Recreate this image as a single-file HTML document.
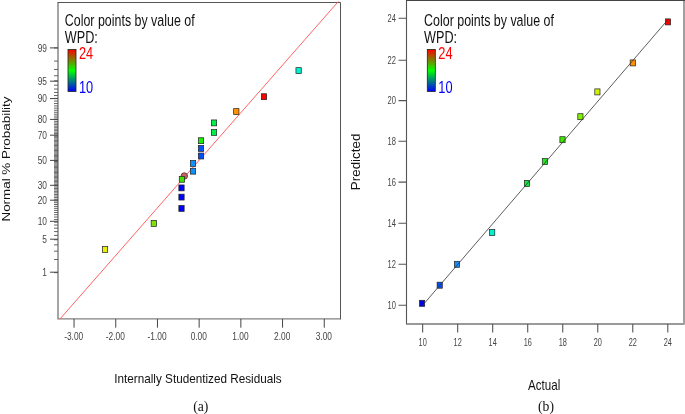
<!DOCTYPE html>
<html><head><meta charset="utf-8"><title>Diagnostic plots</title>
<style>
html,body{margin:0;padding:0;background:#fff;}
svg{display:block;will-change:transform;}
text{font-family:"Liberation Sans",Arial,sans-serif;}
.ser{font-family:"Liberation Serif","Times New Roman",serif;}
</style></head><body>
<svg width="685" height="414" viewBox="0 0 685 414">
<defs>
<linearGradient id="g" x1="0" y1="0" x2="0" y2="1">
<stop offset="0" stop-color="#ff0000"/><stop offset="0.5" stop-color="#00ff00"/><stop offset="1" stop-color="#0000ff"/>
</linearGradient>
</defs>
<rect width="685" height="414" fill="#fff"/>

<path d="M58 2.5V318.9H340.5" fill="none" stroke="#808080" stroke-width="1.4"/>
<path d="M57.5 2.5H340.5V319.4" fill="none" stroke="#555" stroke-width="1"/>
<path d="M54 272.66H58M54 259.5H58M54 251.14H58M54 244.86H58M54 239.75H58M54 235.4H58M54 231.58H58M54 228.16H58M54 225.06H58M54 222.2H58M54 219.54H58M54 217.05H58M54 214.7H58M54 212.48H58M54 210.36H58M54 208.33H58M54 206.39H58M54 204.51H58M54 202.7H58M54 200.95H58M54 199.25H58M54 197.6H58M54 195.99H58M54 194.41H58M54 192.88H58M54 191.37H58M54 189.9H58M54 188.45H58M54 187.03H58M54 185.63H58M54 184.25H58M54 182.89H58M54 181.55H58M54 180.22H58M54 178.91H58M54 177.61H58M54 176.33H58M54 175.05H58M54 173.79H58M54 172.54H58M54 171.29H58M54 170.05H58M54 168.82H58M54 167.59H58M54 166.37H58M54 165.15H58M54 163.94H58M54 162.72H58M54 161.51H58M54 160.3H58M54 159.09H58M54 157.88H58M54 156.66H58M54 155.45H58M54 154.23H58M54 153.01H58M54 151.78H58M54 150.55H58M54 149.31H58M54 148.06H58M54 146.81H58M54 145.55H58M54 144.27H58M54 142.99H58M54 141.69H58M54 140.38H58M54 139.05H58M54 137.71H58M54 136.35H58M54 134.97H58M54 133.57H58M54 132.15H58M54 130.7H58M54 129.23H58M54 127.72H58M54 126.19H58M54 124.61H58M54 123.0H58M54 121.35H58M54 119.65H58M54 117.9H58M54 116.09H58M54 114.21H58M54 112.27H58M54 110.24H58M54 108.12H58M54 105.9H58M54 103.55H58M54 101.06H58M54 98.4H58M54 95.54H58M54 92.44H58M54 89.02H58M54 85.2H58M54 80.85H58M54 75.74H58M54 69.46H58M54 61.1H58M54 47.94H58" stroke="#4a4a4a" stroke-width="0.85" fill="none"/>
<text transform="translate(47,275.8) scale(0.835,1)" font-size="10" fill="#444" text-anchor="end">1</text>
<text transform="translate(47,242.8) scale(0.835,1)" font-size="10" fill="#444" text-anchor="end">5</text>
<text transform="translate(47,224.9) scale(0.835,1)" font-size="10" fill="#444" text-anchor="end">10</text>
<text transform="translate(47,203.8) scale(0.835,1)" font-size="10" fill="#444" text-anchor="end">20</text>
<text transform="translate(47,188.9) scale(0.835,1)" font-size="10" fill="#444" text-anchor="end">30</text>
<text transform="translate(47,164.0) scale(0.835,1)" font-size="10" fill="#444" text-anchor="end">50</text>
<text transform="translate(47,138.8) scale(0.835,1)" font-size="10" fill="#444" text-anchor="end">70</text>
<text transform="translate(47,123.0) scale(0.835,1)" font-size="10" fill="#444" text-anchor="end">80</text>
<text transform="translate(47,102.2) scale(0.835,1)" font-size="10" fill="#444" text-anchor="end">90</text>
<text transform="translate(47,84.8) scale(0.835,1)" font-size="10" fill="#444" text-anchor="end">95</text>
<text transform="translate(47,51.5) scale(0.835,1)" font-size="10" fill="#444" text-anchor="end">99</text>
<path d="M50 272.2H58M50 239.2H58M50 221.3H58M50 200.2H58M50 185.3H58M50 160.4H58M50 135.2H58M50 119.4H58M50 98.6H58M50 81.2H58M50 47.9H58" stroke="#444" stroke-width="1" fill="none"/>
<text transform="translate(73.64999999999999,339.7) scale(0.835,1)" font-size="10" fill="#444" text-anchor="middle">-3.00</text>
<text transform="translate(115.35,339.7) scale(0.835,1)" font-size="10" fill="#444" text-anchor="middle">-2.00</text>
<text transform="translate(157.04999999999998,339.7) scale(0.835,1)" font-size="10" fill="#444" text-anchor="middle">-1.00</text>
<text transform="translate(198.75,339.7) scale(0.835,1)" font-size="10" fill="#444" text-anchor="middle">0.00</text>
<text transform="translate(240.45,339.7) scale(0.835,1)" font-size="10" fill="#444" text-anchor="middle">1.00</text>
<text transform="translate(282.15000000000003,339.7) scale(0.835,1)" font-size="10" fill="#444" text-anchor="middle">2.00</text>
<text transform="translate(323.85,339.7) scale(0.835,1)" font-size="10" fill="#444" text-anchor="middle">3.00</text>
<path d="M74.05 318.9V327.7M115.75 318.9V327.7M157.45 318.9V327.7M199.15 318.9V327.7M240.85 318.9V327.7M282.55 318.9V327.7M324.25 318.9V327.7" stroke="#444" stroke-width="1" fill="none"/>
<line x1="59.9" y1="319.1" x2="338.4" y2="1.4" stroke="#ff6464" stroke-width="1"/>
<rect x="295.95" y="67.65" width="5.3" height="5.9" fill="#00f0d0" stroke="#222" stroke-width="0.7"/>
<rect x="261.35" y="93.75" width="5.3" height="5.9" fill="#ff0000" stroke="#222" stroke-width="0.7"/>
<rect x="233.65" y="108.65" width="5.3" height="5.9" fill="#ff9000" stroke="#222" stroke-width="0.7"/>
<rect x="211.35" y="119.95" width="5.3" height="5.9" fill="#00f048" stroke="#222" stroke-width="0.7"/>
<rect x="211.35" y="129.45" width="5.3" height="5.9" fill="#00f048" stroke="#222" stroke-width="0.7"/>
<rect x="198.35" y="137.75" width="5.3" height="5.9" fill="#18f000" stroke="#222" stroke-width="0.7"/>
<rect x="198.35" y="145.45" width="5.3" height="5.9" fill="#0050ff" stroke="#222" stroke-width="0.7"/>
<rect x="198.35" y="153.05" width="5.3" height="5.9" fill="#0050ff" stroke="#222" stroke-width="0.7"/>
<rect x="190.35" y="160.45" width="5.3" height="5.9" fill="#1090ff" stroke="#222" stroke-width="0.7"/>
<rect x="190.35" y="168.25" width="5.3" height="5.9" fill="#1090ff" stroke="#222" stroke-width="0.7"/>
<circle cx="184.3" cy="176" r="3.2" fill="#c86464" stroke="#7a3a3a" stroke-width="1"/>
<rect x="179.25" y="176.35" width="5.3" height="5.9" fill="#40e000" stroke="#222" stroke-width="0.7"/>
<rect x="178.85" y="184.95" width="5.3" height="5.9" fill="#0000ff" stroke="#222" stroke-width="0.7"/>
<rect x="178.85" y="194.15" width="5.3" height="5.9" fill="#0000ff" stroke="#222" stroke-width="0.7"/>
<rect x="178.85" y="205.45" width="5.3" height="5.9" fill="#0000ff" stroke="#222" stroke-width="0.7"/>
<rect x="151.15" y="220.45" width="5.3" height="5.9" fill="#80e000" stroke="#222" stroke-width="0.7"/>
<rect x="102.35" y="246.55" width="5.3" height="5.9" fill="#e8f000" stroke="#222" stroke-width="0.7"/>
<text transform="translate(64.8,25.9) scale(0.797,1)" font-size="15.6" fill="#111" text-anchor="start">Color points by value of</text>
<text transform="translate(64.8,42.6) scale(0.81,1)" font-size="15.6" fill="#111" text-anchor="start">WPD:</text>
<rect x="68.0" y="49.5" width="8" height="42" fill="url(#g)" stroke="#222" stroke-width="0.8"/>
<text transform="translate(79.0,59.2) scale(0.8,1)" font-size="16" fill="#ff0000" text-anchor="start">24</text>
<text transform="translate(79.0,92.7) scale(0.8,1)" font-size="16" fill="#0000ff" text-anchor="start">10</text>
<text transform="translate(9.8,221.5) scale(0.875,1) rotate(-90)" font-size="13.4" fill="#111" text-anchor="start">Normal % Probability</text>
<text transform="translate(114.3,383.2) scale(0.875,1)" font-size="13.4" fill="#111" text-anchor="start">Internally Studentized Residuals</text>
<text class="ser" x="193.2" y="411.2" font-size="13.7" fill="#111">(a)</text>
<path d="M406.5 0.5V323.9" stroke="#555" stroke-width="1.1" fill="none"/>
<path d="M406.0 323.9H684" stroke="#777" stroke-width="1.5" fill="none"/>
<path d="M684 0.5V324.65" stroke="#a0a0a0" stroke-width="2" fill="none"/>
<path d="M406.0 0.5H685" stroke="#444" stroke-width="1" fill="none"/>
<text transform="translate(396,309.1) scale(0.72,1)" font-size="10.5" fill="#444" text-anchor="end">10</text>
<text transform="translate(422.65,345.8) scale(0.7,1)" font-size="10.5" fill="#444" text-anchor="middle">10</text>
<text transform="translate(396,268.0) scale(0.72,1)" font-size="10.5" fill="#444" text-anchor="end">12</text>
<text transform="translate(457.67,345.8) scale(0.7,1)" font-size="10.5" fill="#444" text-anchor="middle">12</text>
<text transform="translate(396,227.1) scale(0.72,1)" font-size="10.5" fill="#444" text-anchor="end">14</text>
<text transform="translate(492.69,345.8) scale(0.7,1)" font-size="10.5" fill="#444" text-anchor="middle">14</text>
<text transform="translate(396,185.9) scale(0.72,1)" font-size="10.5" fill="#444" text-anchor="end">16</text>
<text transform="translate(527.71,345.8) scale(0.7,1)" font-size="10.5" fill="#444" text-anchor="middle">16</text>
<text transform="translate(396,145.1) scale(0.72,1)" font-size="10.5" fill="#444" text-anchor="end">18</text>
<text transform="translate(562.73,345.8) scale(0.7,1)" font-size="10.5" fill="#444" text-anchor="middle">18</text>
<text transform="translate(396,104.4) scale(0.72,1)" font-size="10.5" fill="#444" text-anchor="end">20</text>
<text transform="translate(597.75,345.8) scale(0.7,1)" font-size="10.5" fill="#444" text-anchor="middle">20</text>
<text transform="translate(396,64.0) scale(0.72,1)" font-size="10.5" fill="#444" text-anchor="end">22</text>
<text transform="translate(632.77,345.8) scale(0.7,1)" font-size="10.5" fill="#444" text-anchor="middle">22</text>
<text transform="translate(396,22.1) scale(0.72,1)" font-size="10.5" fill="#444" text-anchor="end">24</text>
<text transform="translate(667.79,345.8) scale(0.7,1)" font-size="10.5" fill="#444" text-anchor="middle">24</text>
<path d="M398.5 305.3H406.5M422.65 323.9V332.5M398.5 264.2H406.5M457.67 323.9V332.5M398.5 223.3H406.5M492.69 323.9V332.5M398.5 182.1H406.5M527.71 323.9V332.5M398.5 141.3H406.5M562.73 323.9V332.5M398.5 100.6H406.5M597.75 323.9V332.5M398.5 60.2H406.5M632.77 323.9V332.5M398.5 18.3H406.5M667.79 323.9V332.5" stroke="#555" stroke-width="1.1" fill="none"/>
<rect x="665.4" y="18.9" width="5.2" height="6.0" fill="#ff0000" stroke="#222" stroke-width="0.7"/>
<rect x="630.2" y="59.9" width="5.2" height="6.0" fill="#ff9000" stroke="#222" stroke-width="0.7"/>
<rect x="594.8" y="88.9" width="5.2" height="6.0" fill="#d0f000" stroke="#222" stroke-width="0.7"/>
<rect x="577.8" y="113.7" width="5.2" height="6.0" fill="#80f000" stroke="#222" stroke-width="0.7"/>
<rect x="559.9" y="136.7" width="5.2" height="6.0" fill="#40e800" stroke="#222" stroke-width="0.7"/>
<rect x="542.3" y="158.6" width="5.2" height="6.0" fill="#20e820" stroke="#222" stroke-width="0.7"/>
<rect x="524.4" y="180.4" width="5.2" height="6.0" fill="#10e840" stroke="#222" stroke-width="0.7"/>
<rect x="489.6" y="229.4" width="5.2" height="6.0" fill="#00f0d0" stroke="#222" stroke-width="0.7"/>
<rect x="454.4" y="261.3" width="5.2" height="6.0" fill="#1090ff" stroke="#222" stroke-width="0.7"/>
<rect x="437.1" y="282.2" width="5.2" height="6.0" fill="#0050ff" stroke="#222" stroke-width="0.7"/>
<rect x="419.5" y="300.3" width="5.2" height="6.0" fill="#0000e0" stroke="#222" stroke-width="0.7"/>
<line x1="422.65" y1="305.3" x2="667.79" y2="19.80000000000001" stroke="#333" stroke-width="0.8"/>
<text transform="translate(424.1,25.9) scale(0.797,1)" font-size="15.6" fill="#111" text-anchor="start">Color points by value of</text>
<text transform="translate(424.1,42.6) scale(0.81,1)" font-size="15.6" fill="#111" text-anchor="start">WPD:</text>
<rect x="427.3" y="49.5" width="8" height="42" fill="url(#g)" stroke="#222" stroke-width="0.8"/>
<text transform="translate(438.3,59.2) scale(0.8,1)" font-size="16" fill="#ff0000" text-anchor="start">24</text>
<text transform="translate(438.3,92.7) scale(0.8,1)" font-size="16" fill="#0000ff" text-anchor="start">10</text>
<text transform="translate(360.4,190.2) scale(1.0,1) rotate(-90)" font-size="13.4" fill="#111" text-anchor="start">Predicted</text>
<text transform="translate(528,390) scale(0.8,1)" font-size="14.5" fill="#111" text-anchor="start">Actual</text>
<text class="ser" x="538.0" y="411.2" font-size="13.7" fill="#111">(b)</text>
</svg></body></html>
